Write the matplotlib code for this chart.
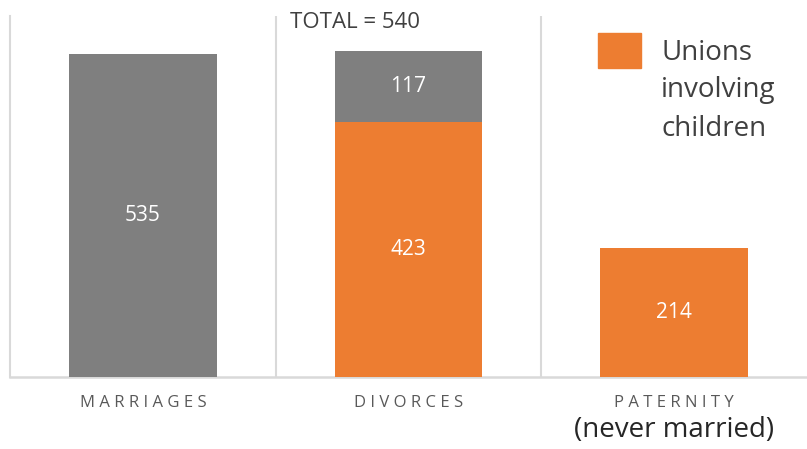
import matplotlib.pyplot as plt
from matplotlib.patches import Patch

categories = ["MARRIAGES", "DIVORCES", "PATERNITY"]
children = [0, 423, 214]      # unions involving children (orange)
other = [535, 117, 0]         # remaining unions (gray)
total_label = "TOTAL = 540"
sub_label = "(never married)"
legend_label = ["Unions", "involving\nchildren"]

GRAY = "#7f7f7f"
ORANGE = "#ed7d31"
GRID = "#d9d9d9"
TEXT = "#404040"

plt.rcParams["font.family"] = ["Open Sans", "DejaVu Sans"]

fig = plt.figure(figsize=(8.07, 4.49), dpi=100)
ax = fig.add_axes([10 / 807, 1 - 377 / 449, 797 / 807, 361 / 449])

x = list(range(len(categories)))
width = 0.555
b1 = ax.bar(x, children, width, color=ORANGE, zorder=3)
b2 = ax.bar(x, other, width, bottom=children, color=GRAY, zorder=3)

# value labels in the middle of each segment
for bars, vals, bottoms in [(b1, children, [0] * 3), (b2, other, children)]:
    for rect, v, b in zip(bars, vals, bottoms):
        if v > 0:
            ax.text(rect.get_x() + rect.get_width() / 2, b + v / 2, str(v),
                    ha="center", va="center", color="white", fontsize=15, zorder=4)

ax.set_xlim(-0.5, 2.5)
ax.set_ylim(0, 598)
ax.set_yticks([])
ax.set_xticks(x)
ax.set_xticklabels([" ".join(c) for c in categories], fontsize=12, color="#595959")
ax.tick_params(axis="x", length=0, pad=13)
ax.set_xticks([0.5, 1.5], minor=True)
ax.tick_params(axis="x", which="minor", length=0)
ax.grid(axis="x", which="minor", color=GRID, linewidth=1.5, zorder=0)

for s in ["top", "right"]:
    ax.spines[s].set_visible(False)
ax.spines["left"].set_color(GRID)
ax.spines["left"].set_linewidth(1.5)
ax.spines["bottom"].set_color(GRID)
ax.spines["bottom"].set_linewidth(1.8)

ax.text(0.555, 0.983, total_label, transform=ax.get_xaxis_transform(),
        ha="left", va="center", fontsize=16, color=TEXT)

ax.text(2, -0.147, sub_label, transform=ax.get_xaxis_transform(),
        ha="center", va="center", fontsize=20, color="#262626")

# legend: orange square next to the first word, rest of the label stacked below
leg = ax.legend(handles=[Patch(color=ORANGE)], labels=[legend_label[0]],
                loc="upper left", bbox_to_anchor=(598 / 807, 1 - 33 / 449),
                bbox_transform=fig.transFigure,
                frameon=False, fontsize=20, handlelength=1.55, handleheight=1.55,
                handletextpad=0.72, borderpad=0, borderaxespad=0, labelcolor=TEXT)
ax.annotate(legend_label[1], xy=(0, 0), xycoords=leg.get_texts()[0],
            xytext=(0, -7), textcoords="offset points", ha="left", va="top",
            fontsize=20, linespacing=1.5, color=TEXT, zorder=10)

fig.savefig("out.png", dpi=100)
